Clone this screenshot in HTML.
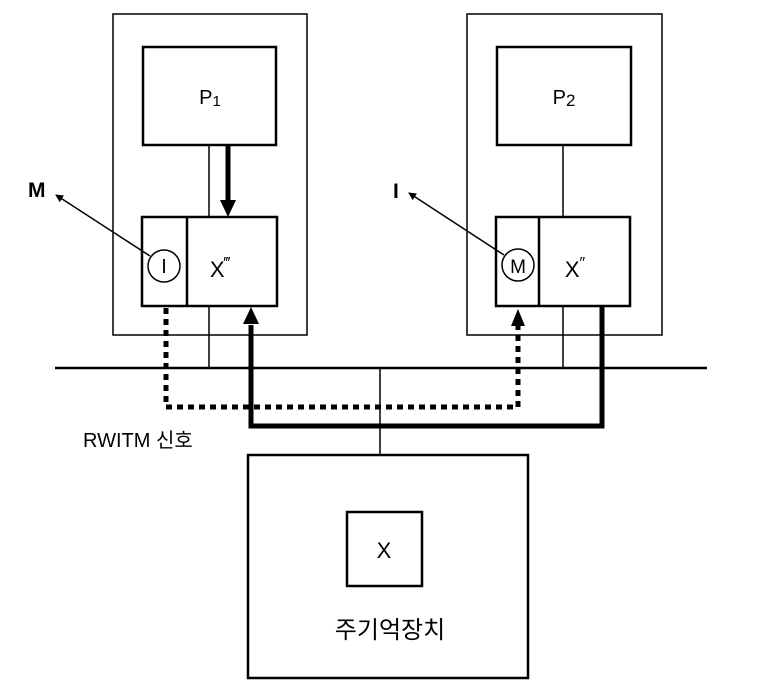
<!DOCTYPE html>
<html><head><meta charset="utf-8"><style>
html,body{margin:0;padding:0;background:#fff;}
svg{display:block;}
text{font-family:"Liberation Sans","Noto Sans CJK KR",sans-serif;fill:#000;}
</style></head><body>
<svg width="758" height="696" viewBox="0 0 758 696" xmlns="http://www.w3.org/2000/svg">
<defs>
<marker id="a" markerWidth="8" markerHeight="8" refX="7" refY="4" orient="auto" markerUnits="userSpaceOnUse"><path d="M0,0 L8,4 L0,8 z" fill="#000"/></marker>
</defs>
<g fill="none" stroke="#000">
<!-- outer boxes -->
<rect x="113" y="14" width="194" height="321" stroke-width="1.5"/>
<rect x="467" y="14" width="195" height="321" stroke-width="1.5"/>
<!-- P boxes -->
<rect x="143" y="47" width="133" height="98" stroke-width="2.5"/>
<rect x="497" y="47" width="134" height="98" stroke-width="2.5"/>
<!-- cache boxes -->
<rect x="142" y="217" width="135" height="89" stroke-width="2.5"/>
<line x1="187" y1="217" x2="187" y2="306" stroke-width="2.5"/>
<rect x="496" y="217" width="134" height="89" stroke-width="2.5"/>
<line x1="539" y1="217" x2="539" y2="306" stroke-width="2.5"/>
<!-- thin verticals -->
<line x1="209" y1="145" x2="209" y2="217" stroke-width="1.5"/>
<line x1="209" y1="306" x2="209" y2="368" stroke-width="1.5"/>
<line x1="563" y1="145" x2="563" y2="217" stroke-width="1.5"/>
<line x1="563" y1="306" x2="563" y2="368" stroke-width="1.5"/>
<!-- bus -->
<line x1="55" y1="368" x2="707" y2="368" stroke-width="2.5"/>
<line x1="380" y1="368" x2="380" y2="455" stroke-width="1.5"/>
<!-- memory -->
<rect x="248" y="455" width="280" height="223" stroke-width="2.5"/>
<rect x="347" y="512" width="75" height="74" stroke-width="2.5"/>
<!-- circles -->
<circle cx="164" cy="266" r="16" stroke-width="1.5"/>
<circle cx="518" cy="265" r="16" stroke-width="1.5"/>
<!-- thin arrows -->
<line x1="150" y1="256" x2="56" y2="195" stroke-width="1.5" marker-end="url(#a)"/>
<line x1="504" y1="255" x2="409" y2="193" stroke-width="1.5" marker-end="url(#a)"/>
<!-- thick arrow P1 down -->
<line x1="228" y1="145" x2="228" y2="202" stroke-width="5"/>
<!-- dotted path -->
<polyline points="166,308 166,407 518,407 518,326" stroke-width="5" stroke-dasharray="6,5"/>
<!-- thick solid path -->
<polyline points="602,306 602,426 251,426 251,325" stroke-width="5"/>
</g>
<path d="M220,200 L236,200 L228,217 z" fill="#000"/>
<path d="M243,324 L259,324 L251,307 z" fill="#000"/>
<path d="M511,326 L525,326 L518,309 z" fill="#000"/>
<text x="210" y="104" font-size="20" text-anchor="middle">P<tspan font-size="15" dy="2">1</tspan></text>
<text x="564" y="104" font-size="20" text-anchor="middle">P<tspan font-size="17" dy="2">2</tspan></text>
<text x="164" y="273" font-size="20" text-anchor="middle">I</text>
<text x="518" y="273" font-size="19" text-anchor="middle">M</text>
<text x="220" y="277" font-size="22" text-anchor="middle">X<tspan font-size="16" dy="-9">‴</tspan></text>
<text x="575" y="277" font-size="22" text-anchor="middle">X<tspan font-size="16" dy="-9">″</tspan></text>
<text x="28" y="197" font-size="21" font-weight="bold">M</text>
<text x="393" y="198" font-size="21" font-weight="bold">I</text>
<text x="83" y="447" font-size="20">RWITM  신호</text>
<text x="384" y="558" font-size="22" text-anchor="middle">X</text>
<text x="390" y="638" font-size="24" text-anchor="middle">주기억장치</text>
</svg>
</body></html>
